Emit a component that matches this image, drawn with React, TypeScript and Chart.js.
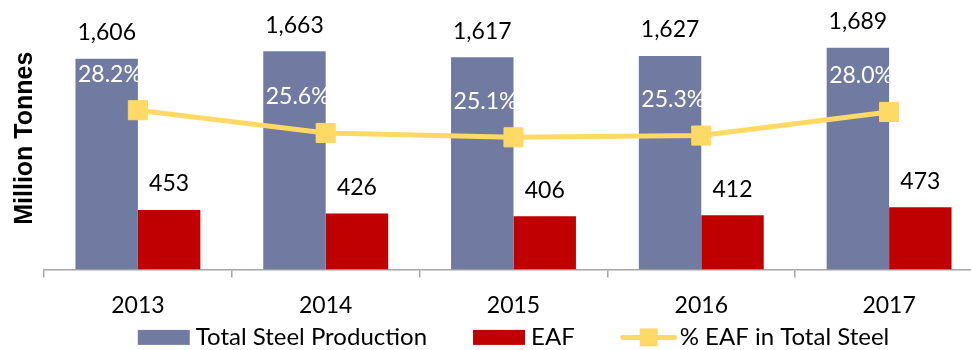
import { useEffect, useRef } from "react";
import { Chart, registerables } from "chart.js";

Chart.register(...registerables);

// Steel output (million tonnes) and electric-arc-furnace share
const years = ["2013", "2014", "2015", "2016", "2017"];
const totalSteel = [1606, 1663, 1617, 1627, 1689];
const eafSteel = [453, 426, 406, 412, 473];
const eafShare = [28.2, 25.6, 25.1, 25.3, 28.0];

const FONT = "Lato, 'Noto Sans', sans-serif";
const LABEL_SIZE = 23;
const LEGEND_SIZE = 24;

const BLUE = "#717ba1";
const RED = "#c00000";
const GOLD = "#ffd966";
const AXIS = "#a6a6a6";

// Value labels: totals above each bar, white percentages beside each line point
const valueLabels = {
  id: "valueLabels",
  afterDatasetsDraw(chart: any) {
    const ctx = chart.ctx;
    ctx.save();
    ctx.font = `${LABEL_SIZE}px ${FONT}`;
    ctx.textAlign = "center";
    ctx.textBaseline = "middle";
    chart.data.datasets.forEach((ds: any, i: number) => {
      const meta = chart.getDatasetMeta(i);
      meta.data.forEach((el: any, j: number) => {
        const v = ds.data[j] as number;
        if (ds.type === "line") {
          ctx.fillStyle = "#ffffff";
          ctx.fillText(v.toFixed(1) + "%", el.x - 28, el.y - 36);
        } else {
          ctx.fillStyle = "#000000";
          ctx.fillText(v.toLocaleString("en-US"), el.x, el.y - 26);
        }
      });
    });
    ctx.restore();
  },
};

// Legend row centred under the plot area
const bottomLegend = {
  id: "bottomLegend",
  afterDraw(chart: any) {
    const { ctx, chartArea } = chart;
    ctx.save();
    ctx.font = `${LEGEND_SIZE}px ${FONT}`;
    ctx.textBaseline = "middle";
    ctx.textAlign = "left";
    const items = chart.data.datasets.map((ds: any) => {
      const isLine = ds.type === "line";
      const swatch = isLine ? 56 : 52;
      const gap = isLine ? 3 : 6;
      const tw = ctx.measureText(ds.label).width;
      return { ds, isLine, swatch, gap, tw, w: swatch + gap + tw };
    });
    const spacing = 46;
    const total = items.reduce((s: number, it: any) => s + it.w, 0) + spacing * (items.length - 1);
    let x = (chartArea.left + chartArea.right) / 2 - total / 2;
    const cy = chartArea.bottom + 68;
    items.forEach((it: any) => {
      if (it.isLine) {
        ctx.strokeStyle = it.ds.borderColor;
        ctx.lineWidth = 5;
        ctx.lineCap = "round";
        ctx.beginPath();
        ctx.moveTo(x + 2, cy);
        ctx.lineTo(x + it.swatch - 2, cy);
        ctx.stroke();
        ctx.fillStyle = it.ds.pointBackgroundColor;
        ctx.fillRect(x + it.swatch / 2 - 9, cy - 9, 18, 18);
      } else {
        ctx.fillStyle = it.ds.backgroundColor;
        ctx.fillRect(x, cy - 7.5, it.swatch, 15);
      }
      ctx.fillStyle = "#000000";
      ctx.fillText(it.ds.label, x + it.swatch + it.gap, cy);
      x += it.w + spacing;
    });
    ctx.restore();
  },
};

export default function App() {
  const canvasRef = useRef<HTMLCanvasElement | null>(null);

  useEffect(() => {
    if (!canvasRef.current) return;
    const chart = new Chart(canvasRef.current, {
      type: "bar",
      data: {
        labels: years,
        datasets: [
          {
            type: "bar",
            label: "Total Steel Production",
            data: totalSteel,
            backgroundColor: BLUE,
            yAxisID: "y",
            order: 1,
          },
          {
            type: "bar",
            label: "EAF",
            data: eafSteel,
            backgroundColor: RED,
            yAxisID: "y",
            order: 1,
          },
          {
            type: "line",
            label: "% EAF in Total Steel",
            data: eafShare,
            borderColor: GOLD,
            backgroundColor: GOLD,
            borderWidth: 5,
            pointStyle: "rect",
            pointRadius: 13.5,
            pointBorderWidth: 1,
            pointBackgroundColor: GOLD,
            pointBorderColor: GOLD,
            tension: 0,
            yAxisID: "y1",
            order: 0,
          },
        ] as any,
      },
      options: {
        responsive: false,
        devicePixelRatio: 1,
        animation: false,
        layout: { autoPadding: false, padding: { left: 6, top: 7, right: 0, bottom: 17 } },
        datasets: {
          bar: { categoryPercentage: 0.665, barPercentage: 1 },
        } as any,
        plugins: {
          legend: { display: false },
          tooltip: { enabled: false },
        },
        scales: {
          x: {
            grid: {
              display: true,
              drawOnChartArea: false,
              drawTicks: true,
              tickLength: 8,
              color: AXIS,
              lineWidth: 1.5,
              offset: true,
            },
            border: { display: true, color: AXIS, width: 1.5 },
            ticks: {
              color: "#000000",
              padding: 14,
              font: { family: FONT, size: LABEL_SIZE },
            },
          },
          y: {
            min: 0,
            max: 2000,
            ticks: { display: false },
            grid: { display: false },
            border: { display: false },
            title: {
              display: true,
              text: "Million Tonnes",
              color: "#000000",
              padding: { top: 4, bottom: -4 },
              font: { family: "'Liberation Sans', Arial, sans-serif", size: 25, weight: "bold" },
            },
          },
          y1: {
            display: false,
            position: "right",
            min: 10,
            max: 40,
          },
        },
      } as any,
      plugins: [valueLabels, bottomLegend],
    });
    return () => chart.destroy();
  }, []);

  return (
    <div
      style={{
        position: "fixed",
        left: 0,
        top: 0,
        width: 971,
        height: 350,
        overflow: "hidden",
        background: "#ffffff",
      }}
    >
      <canvas
        ref={canvasRef}
        width={983}
        height={350}
        style={{ display: "block", width: 983, height: 350 }}
      />
    </div>
  );
}
